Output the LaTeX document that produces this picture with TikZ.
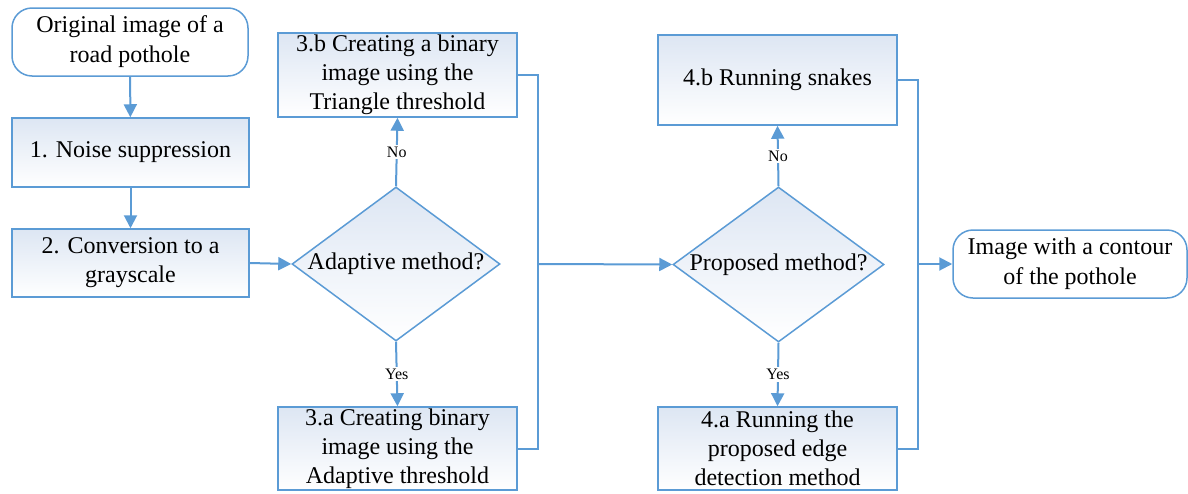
\documentclass[tikz,border=0pt]{standalone}
\usepackage{fontspec}
\setmainfont{Liberation Serif}
\usetikzlibrary{shapes.geometric,arrows.meta}
\definecolor{lineblue}{RGB}{91,155,213}
\definecolor{filltop}{RGB}{221,230,243}
\tikzset{
  x=1pt,y=-1pt,
  box/.style={draw=lineblue,line width=1.5pt,top color=filltop,bottom color=white,
    minimum width=#1,inner sep=0pt,align=center,font=\fontsize{24}{29}\selectfont},
  term/.style={draw=lineblue,line width=1.5pt,fill=white,rounded corners=20pt,
    minimum width=#1,minimum height=68pt,inner sep=0pt,align=center,font=\fontsize{24}{30}\selectfont},
  dec/.style={diamond,draw=lineblue,line width=1.5pt,top color=filltop,bottom color=white,inner sep=0pt},
  dectext/.style={font=\fontsize{24}{29}\selectfont},
  conn/.style={draw=lineblue,line width=2pt},
  arr/.style={conn,-{Triangle[length=13pt,width=13pt]}},
  lbl/.style={fill=white,inner sep=2pt,font=\fontsize{16}{18}\selectfont}
}
\begin{document}
\begin{tikzpicture}
\useasboundingbox (0,0) rectangle (1188,493);
\node[term=236pt] (orig) at (130,42) {Original image of a\\road pothole};
\node[box=237pt,minimum height=69pt] (n1) at (130.5,152.5) {1. Noise suppression};
\node[box=237pt,minimum height=68pt] (n2) at (130.5,263) {2. Conversion to a\\grayscale};
\node[dec,minimum width=208pt,minimum height=154pt] (d1) at (396,264) {};
\node[dectext] (d1t) at (d1) {Adaptive method?};
\node[box=239pt,minimum height=84pt] (b3b) at (397.5,75) {3.b Creating a binary\\image using the\\Triangle threshold};
\node[box=239pt,minimum height=83pt] (b3a) at (397.5,448.5) {3.a Creating binary\\image using the\\Adaptive threshold};
\node[dec,minimum width=211pt,minimum height=155pt] (d2) at (778.5,264.5) {};
\node[dectext] (d2t) at (d2) {Proposed method?};
\node[box=239pt,minimum height=90pt] (b4b) at (777.5,80) {4.b Running snakes};
\node[box=239pt,minimum height=83pt] (b4a) at (777.5,448.5) {4.a Running the\\proposed edge\\detection method};
\node[term=234pt] (end) at (1070,264) {Image with a contour\\of the pothole};
\coordinate (j1) at (538,264);
\coordinate (j2) at (918,264);
\draw[arr] (orig) -- (n1);
\draw[arr] (n1) -- (n2);
\draw[arr] (n2.east) -- (d1.west);
\draw[arr] (d1.north) -- node[lbl] {No} (b3b.south);
\draw[arr] (d1.south) -- node[lbl] {Yes} (b3a.north);
\draw[conn] (b3b.east) -| (j1);
\draw[conn] (b3a.east) -| (j1);
\draw[arr] (j1) -- (d2.west);
\draw[arr] (d2.north) -- node[lbl] {No} (b4b.south);
\draw[arr] (d2.south) -- node[lbl] {Yes} (b4a.north);
\draw[conn] (b4b.east) -| (j2);
\draw[conn] (b4a.east) -| (j2);
\draw[arr] (j2) -- (end.west);
\end{tikzpicture}
\end{document}
